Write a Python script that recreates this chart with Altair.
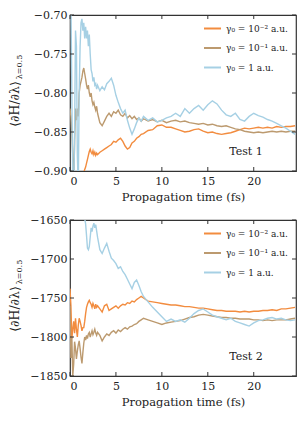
import altair as alt
import pandas as pd

# ---------------- data ----------------
T = [0.0, 0.1, 0.2, 0.3, 0.4, 0.5, 0.6, 0.7, 0.8, 0.9,
     1.0, 1.1, 1.2, 1.3, 1.4, 1.5, 1.6, 1.7, 1.8, 1.9,
     2.0, 2.1, 2.2, 2.3, 2.4, 2.5, 2.6, 2.7, 2.8, 2.9,
     3.0, 3.25, 3.5, 3.75, 4.0, 4.25, 4.5, 4.75, 5.0, 5.25,
     5.5, 5.75, 6.0, 6.25, 6.5, 6.75, 7.0, 7.25, 7.5, 7.75,
     8.0, 8.5, 9.0, 9.5, 10.0, 10.5, 11.0, 11.5, 12.0, 12.5,
     13.0, 13.5, 14.0, 14.5, 15.0, 15.5, 16.0, 16.5, 17.0, 17.5,
     18.0, 18.5, 19.0, 19.5, 20.0, 20.5, 21.0, 21.5, 22.0, 22.5,
     23.0, 23.5, 24.0, 24.5]

series_names = ["γ₀ = 10⁻² a.u.", "γ₀ = 10⁻¹ a.u.", "γ₀ = 1 a.u."]
series_colors = ["#F28C3F", "#BC9A6F", "#A6D0E4"]

# Test 1
test1_g2 = [-0.99, -0.98, -0.97, -0.975, -0.96, -0.965, -0.95, -0.955, -0.945, -0.94,
            -0.935, -0.93, -0.925, -0.915, -0.91, -0.902, -0.898, -0.895, -0.89, -0.885,
            -0.88, -0.875, -0.872, -0.876, -0.878, -0.874, -0.879, -0.876, -0.88, -0.877,
            -0.879, -0.876, -0.874, -0.872, -0.87, -0.868, -0.866, -0.862, -0.863, -0.86,
            -0.858, -0.862, -0.868, -0.872, -0.87, -0.864, -0.862, -0.858, -0.856, -0.853,
            -0.852, -0.848, -0.847, -0.842, -0.841, -0.844, -0.844, -0.846, -0.848, -0.85,
            -0.849, -0.847, -0.846, -0.849, -0.851, -0.85, -0.852, -0.853, -0.852, -0.851,
            -0.849, -0.847, -0.845, -0.846, -0.845, -0.844, -0.845, -0.844, -0.845, -0.843,
            -0.844, -0.843, -0.843, -0.842]
test1_g1 = [-0.82, -0.83, -0.85, -0.88, -0.93, -0.86, -0.82, -0.835, -0.82, -0.83,
            -0.80, -0.79, -0.785, -0.78, -0.772, -0.768, -0.775, -0.782, -0.79, -0.795,
            -0.79, -0.80, -0.805, -0.80, -0.81, -0.815, -0.812, -0.818, -0.822, -0.817,
            -0.826, -0.838, -0.842, -0.836, -0.83, -0.826, -0.83, -0.824, -0.826, -0.822,
            -0.828, -0.83, -0.826, -0.832, -0.829, -0.833, -0.83, -0.834, -0.832, -0.836,
            -0.833, -0.836, -0.834, -0.837, -0.835, -0.838, -0.836, -0.835, -0.837, -0.836,
            -0.838, -0.839, -0.84, -0.839, -0.841, -0.84, -0.842, -0.843, -0.842, -0.844,
            -0.846, -0.847, -0.849, -0.85, -0.851, -0.85, -0.851, -0.85, -0.849, -0.85,
            -0.849, -0.85, -0.849, -0.849]
test1_g0 = [-0.60, -0.68, -0.80, -0.92, -0.95, -0.85, -0.72, -0.74, -0.88, -0.92,
            -0.80, -0.74, -0.71, -0.705, -0.72, -0.71, -0.73, -0.715, -0.73, -0.72,
            -0.74, -0.725, -0.75, -0.77, -0.775, -0.785, -0.78, -0.79, -0.788, -0.795,
            -0.79, -0.797, -0.792, -0.796, -0.788, -0.785, -0.781, -0.79, -0.803, -0.812,
            -0.82, -0.826, -0.822, -0.835, -0.845, -0.853, -0.846, -0.838, -0.832, -0.836,
            -0.83, -0.835, -0.832, -0.837, -0.835, -0.832, -0.83, -0.826, -0.83, -0.82,
            -0.826, -0.82, -0.816, -0.822, -0.815, -0.81, -0.814, -0.822, -0.828, -0.83,
            -0.826, -0.834, -0.836, -0.83, -0.826, -0.829, -0.831, -0.834, -0.836, -0.839,
            -0.842, -0.845, -0.849, -0.853]

# Test 2
test2_g2 = [-1738, -1760, -1802, -1790, -1780, -1795, -1776, -1790, -1800, -1785,
            -1776, -1780, -1785, -1792, -1788, -1788, -1780, -1770, -1762, -1758,
            -1755, -1753, -1756, -1758, -1762, -1757, -1760, -1764, -1758, -1762,
            -1760, -1764, -1768, -1760, -1758, -1766, -1764, -1762, -1760, -1763,
            -1760, -1758, -1759, -1756, -1757, -1754, -1755, -1752, -1750, -1748,
            -1750, -1754, -1755, -1756, -1757, -1758, -1759, -1759, -1760, -1761,
            -1761, -1762, -1763, -1763, -1764, -1765, -1766, -1766, -1767, -1767,
            -1767, -1768, -1767, -1768, -1767, -1767, -1766, -1766, -1765, -1766,
            -1764, -1764, -1763, -1762]
test2_g1 = [-1760, -1827, -1800, -1850, -1835, -1806, -1815, -1828, -1818, -1810,
            -1805, -1815, -1826, -1834, -1820, -1808, -1800, -1804, -1798, -1802,
            -1796, -1794, -1800, -1796, -1792, -1797, -1794, -1790, -1795, -1798,
            -1794, -1798, -1805, -1800, -1796, -1798, -1794, -1792, -1795, -1791,
            -1793, -1790, -1788, -1790, -1787, -1786, -1784, -1783, -1780, -1778,
            -1776, -1778, -1780, -1782, -1784, -1782, -1781, -1780, -1779, -1777,
            -1775, -1774, -1772, -1771, -1772, -1773, -1774, -1775, -1775, -1776,
            -1776, -1777, -1777, -1777, -1778, -1778, -1779, -1778, -1779, -1778,
            -1778, -1778, -1777, -1776]
test2_g0 = [-1600, -1610, -1620, -1615, -1625, -1620, -1618, -1622, -1620, -1625,
            -1622, -1628, -1630, -1626, -1635, -1640, -1648, -1655, -1670, -1686,
            -1688, -1684, -1672, -1660, -1665, -1658, -1654, -1660, -1656, -1664,
            -1672, -1688, -1693, -1686, -1680, -1690, -1699, -1702, -1706, -1712,
            -1710, -1716, -1720, -1726, -1732, -1738, -1730, -1727, -1734, -1742,
            -1748, -1755, -1762, -1768, -1774, -1780, -1777, -1780, -1778, -1781,
            -1776, -1770, -1766, -1764, -1768, -1772, -1774, -1776, -1778, -1776,
            -1780, -1782, -1784, -1786, -1782, -1779, -1778, -1776, -1775, -1777,
            -1776, -1778, -1779, -1778]

x_ticks = [0, 5, 10, 15, 20]
y_ticks_1 = [-0.90, -0.85, -0.80, -0.75, -0.70]
y_ticks_2 = [-1850, -1800, -1750, -1700, -1650]

# ---------------- chart ----------------
W, H = 226, 156
FONT = "DejaVu Serif"
TL = 4  # inner tick length


def panel(vals, y_dom, y_ticks, fmt, label):
    rows = []
    for name, v in zip(series_names, vals):
        for t, y in zip(T, v):
            rows.append({"t": t, "v": y, "s": name})
    df = pd.DataFrame(rows)
    xs = alt.Scale(domain=[0, 24.6], nice=False)
    ys = alt.Scale(domain=y_dom, nice=False)
    xax = alt.Axis(values=x_ticks, title="Propagation time (fs)",
                   format="d", ticks=False, domain=False, grid=False,
                   labelPadding=4, titlePadding=5, labelOverlap=False)
    yax = alt.Axis(values=y_ticks, title=None, format=fmt,
                   ticks=False, domain=False, grid=False,
                   labelPadding=3, labelOverlap=False)

    lines = alt.Chart(df).mark_line(strokeWidth=1.4, clip=True).encode(
        x=alt.X("t:Q", scale=xs, axis=xax),
        y=alt.Y("v:Q", scale=ys, axis=yax),
        color=alt.Color("s:N", sort=series_names,
                        scale=alt.Scale(domain=series_names, range=series_colors),
                        legend=alt.Legend(title=None, orient="none",
                                          legendX=133, legendY=4,
                                          symbolType="stroke", symbolSize=289,
                                          symbolStrokeWidth=2, labelFont=FONT,
                                          labelFontSize=9, labelColor="#222",
                                          rowPadding=4.5, labelOffset=4)),
        order=alt.Order("t:Q"),
    )

    xt = pd.DataFrame({"t": x_ticks})
    yt = pd.DataFrame({"v": y_ticks})
    tick_style = dict(color="#333", strokeWidth=1)
    xb = alt.Chart(xt).mark_rule(**tick_style).encode(
        x=alt.X("t:Q", scale=xs, axis=xax), y=alt.value(H), y2=alt.value(H - TL))
    xtp = alt.Chart(xt).mark_rule(**tick_style).encode(
        x=alt.X("t:Q", scale=xs, axis=xax), y=alt.value(0), y2=alt.value(TL))
    yl = alt.Chart(yt).mark_rule(**tick_style).encode(
        y=alt.Y("v:Q", scale=ys, axis=yax), x=alt.value(0), x2=alt.value(TL))
    yr = alt.Chart(yt).mark_rule(**tick_style).encode(
        y=alt.Y("v:Q", scale=ys, axis=yax), x=alt.value(W - TL), x2=alt.value(W))

    one = pd.DataFrame({"a": [0]})
    ttl = alt.Chart(one).mark_text(text="⟨∂H/∂λ⟩", angle=270, font=FONT,
                                   fontSize=12.5, color="#222",
                                   align="center", baseline="middle").encode(
        x=alt.value(-55), y=alt.value(89))
    sub = alt.Chart(one).mark_text(text="λ=0.5", angle=270, font=FONT,
                                   fontSize=8, color="#222",
                                   align="center", baseline="middle").encode(
        x=alt.value(-50), y=alt.value(52))
    tag = alt.Chart(one).mark_text(text=label, font=FONT, fontSize=11,
                                   color="#222", align="center",
                                   baseline="middle").encode(
        x=alt.value(176), y=alt.value(137))

    return alt.layer(lines, xb, xtp, yl, yr, ttl, sub, tag).properties(
        width=W, height=H)


p1 = panel([test1_g2, test1_g1, test1_g0], [-0.90, -0.70], y_ticks_1, ".2f", "Test 1")
p2 = panel([test2_g2, test2_g1, test2_g0], [-1850, -1650], y_ticks_2, "d", "Test 2")

chart = alt.vconcat(p1, p2, spacing=9).resolve_legend(
    color="independent").resolve_scale(y="independent").properties(
    padding=0).configure_view(
    stroke="#333", strokeWidth=1.2).configure_axis(
    labelFont=FONT, labelFontSize=11, labelColor="#222",
    titleFont=FONT, titleFontSize=11.5, titleColor="#222",
    titleFontWeight="normal")

chart.save("out.html", embed_options={"renderer": "svg", "actions": False})
